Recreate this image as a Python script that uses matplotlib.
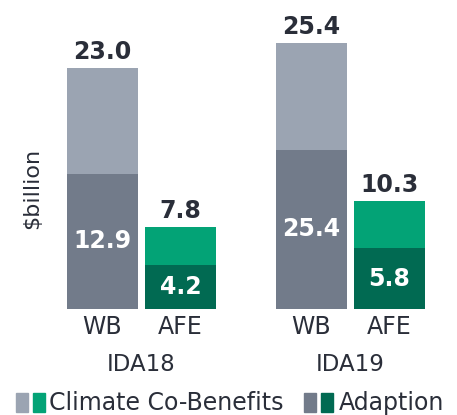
import matplotlib.pyplot as plt
from matplotlib.patches import Rectangle

plt.rcParams["font.family"] = ["DejaVu Sans"]

groups = ["IDA18", "IDA19"]
bars = ["WB", "AFE"]
totals = [23.0, 7.8, 25.4, 10.3]          # climate co-benefits (total)
adaptation = [12.9, 4.2, 15.2, 5.8]       # bar heights of dark segment
total_labels = ["23.0", "7.8", "25.4", "10.3"]
adapt_labels = ["12.9", "4.2", "25.4", "5.8"]

TEXT = "#2a2e39"
LIGHT = ["#9ba4b2", "#03a376", "#9ba4b2", "#03a376"]
DARK = ["#727b8a", "#016a52", "#727b8a", "#016a52"]

W, H = 457, 415
fig = plt.figure(figsize=(W / 100, H / 100), dpi=100)
# axes spans bar area: x 67..425 px, baseline at y=309 px
ax = fig.add_axes([67 / W, (H - 309) / H, 358 / W, 283 / H])
pos = [0, 78 / 71, 209 / 71, 287 / 71]
ax.set_xlim(-0.5, pos[-1] + 0.5)
ax.set_ylim(0, 283 / 10.48)

ax.bar(pos, totals, width=1, color=LIGHT)
ax.bar(pos, adaptation, width=1, color=DARK)

for x, t, a, tl, al in zip(pos, totals, adaptation, total_labels, adapt_labels):
    ax.annotate(tl, (x, t), xytext=(0, 9), textcoords="offset pixels",
                ha="center", va="baseline", fontsize=17, fontweight="bold",
                color=TEXT)
    ax.text(x, a / 2, al, ha="center", va="center", fontsize=17,
            fontweight="bold", color="white")

for x, lab in zip(pos, bars * 2):
    ax.annotate(lab, (x, 0), xycoords=("data", "axes fraction"),
                xytext=(0, -18), textcoords="offset pixels",
                ha="center", va="center", fontsize=17, color=TEXT)

for i, g in enumerate(groups):
    gx = (pos[2 * i] + pos[2 * i + 1]) / 2
    ax.annotate(g, (gx, 0), xycoords=("data", "axes fraction"),
                xytext=(0, -55), textcoords="offset pixels",
                ha="center", va="center", fontsize=16.5, color=TEXT)

ax.axis("off")

fig.text(32 / W, 1 - 188 / H, "$billion", rotation=90, ha="center",
         va="center", fontsize=16, color=TEXT)


# legend
def swatch(x, c):
    fig.add_artist(Rectangle((x / W, 1 - 412 / H), 12 / W, 19 / H,
                             color=c, transform=fig.transFigure))


swatch(16, LIGHT[0])
swatch(33, LIGHT[1])
fig.text(49 / W, 1 - 403 / H, "Climate Co-Benefits", va="center",
         fontsize=17, color=TEXT)
swatch(304, DARK[0])
swatch(321, DARK[1])
fig.text(339 / W, 1 - 403 / H, "Adaption", va="center",
         fontsize=17, color=TEXT)

fig.savefig("out.png", dpi=100)
